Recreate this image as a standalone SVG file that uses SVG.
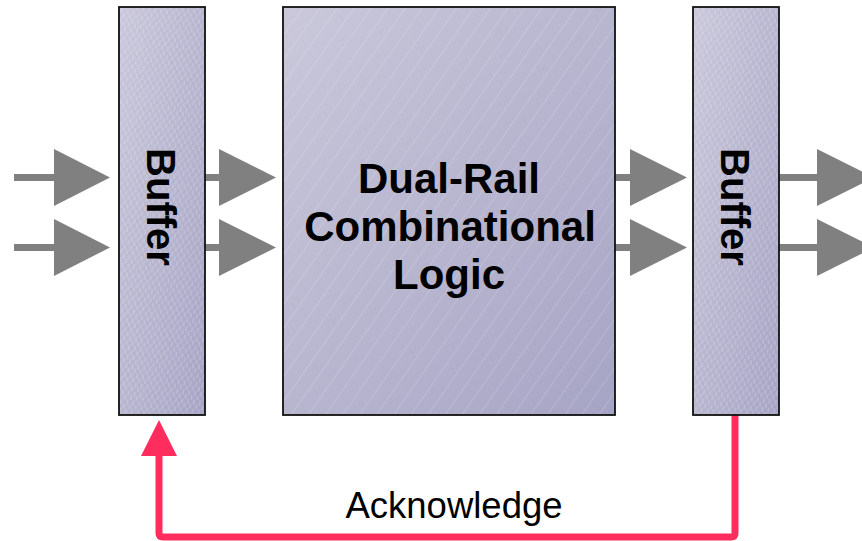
<svg xmlns="http://www.w3.org/2000/svg" width="862" height="541" viewBox="0 0 862 541">
<style>
.box{stroke:#111;stroke-width:1.8}
.wire{stroke:#808080;stroke-width:7;fill:none}
.head{fill:#808080}
.lbl{font-family:"Liberation Sans",Arial,sans-serif;font-weight:bold;fill:#000;text-anchor:middle}
.ack{stroke:#FF2D5E;stroke-width:7;fill:none;stroke-linejoin:round}
</style>
<defs>
<linearGradient id="g" x1="0" y1="0" x2="1" y2="1">
<stop offset="0" stop-color="#cac8da"/>
<stop offset="1" stop-color="#a6a4c4"/>
</linearGradient>
<pattern id="diag" width="14" height="14" patternUnits="userSpaceOnUse" patternTransform="rotate(35)">
<line x1="0" y1="0" x2="0" y2="14" stroke="#fff" stroke-opacity="0.45" stroke-width="0.7"/>
</pattern>
<pattern id="dash" width="6" height="9" patternUnits="userSpaceOnUse" patternTransform="rotate(8)">
<line x1="2" y1="0" x2="2" y2="5" stroke="#fff" stroke-opacity="0.4" stroke-width="0.8"/>
<line x1="5" y1="4.5" x2="5" y2="9.5" stroke="#fff" stroke-opacity="0.4" stroke-width="0.8"/>
</pattern>
</defs>
<g id="connectors">
<line class="wire" x1="14" y1="177.5" x2="56" y2="177.5"/>
<line class="wire" x1="14" y1="247.5" x2="56" y2="247.5"/>
<polygon class="head" points="54,149 54,206 110,177.5"/>
<polygon class="head" points="54,219 54,276 110,247.5"/>
<line class="wire" x1="205" y1="177.5" x2="221" y2="177.5"/>
<line class="wire" x1="205" y1="247.5" x2="221" y2="247.5"/>
<polygon class="head" points="219,149 219,206 276,177.5"/>
<polygon class="head" points="219,219 219,276 276,247.5"/>
<line class="wire" x1="615" y1="177.5" x2="632" y2="177.5"/>
<line class="wire" x1="615" y1="247.5" x2="632" y2="247.5"/>
<polygon class="head" points="630,149 630,206 687,177.5"/>
<polygon class="head" points="630,219 630,276 687,247.5"/>
<line class="wire" x1="779" y1="177.5" x2="819" y2="177.5"/>
<line class="wire" x1="779" y1="247.5" x2="819" y2="247.5"/>
<polygon class="head" points="817,149 817,206 874,177.5"/>
<polygon class="head" points="817,219 817,276 874,247.5"/>
<path class="ack" d="M735,415 V533 Q735,537 731,537 H163 Q159,537 159,533 V454"/>
<polygon fill="#FF2D5E" points="141,456 177,456 159,420"/>
<text x="454" y="518" font-family="'Liberation Sans',Arial,sans-serif" font-size="36.5" fill="#000" text-anchor="middle">Acknowledge</text>
</g>
<g id="buffer-in">
<rect class="box" x="119" y="7" width="86" height="408" fill="url(#g)"/>
<rect x="120" y="8" width="84" height="406" fill="url(#dash)"/>
<text class="lbl" font-size="40" transform="translate(147,207) rotate(90)">Buffer</text>
</g>
<g id="logic">
<rect class="box" x="283" y="7" width="332" height="408" fill="url(#g)"/>
<rect x="284" y="8" width="330" height="406" fill="url(#diag)"/>
<text class="lbl" font-size="42" x="449" y="193">Dual-Rail</text>
<text class="lbl" font-size="42" x="450" y="241">Combinational</text>
<text class="lbl" font-size="42" x="449" y="289">Logic</text>
</g>
<g id="buffer-out">
<rect class="box" x="693" y="7" width="86" height="408" fill="url(#g)"/>
<rect x="694" y="8" width="84" height="406" fill="url(#dash)"/>
<text class="lbl" font-size="40" transform="translate(721,207) rotate(90)">Buffer</text>
</g>
</svg>
